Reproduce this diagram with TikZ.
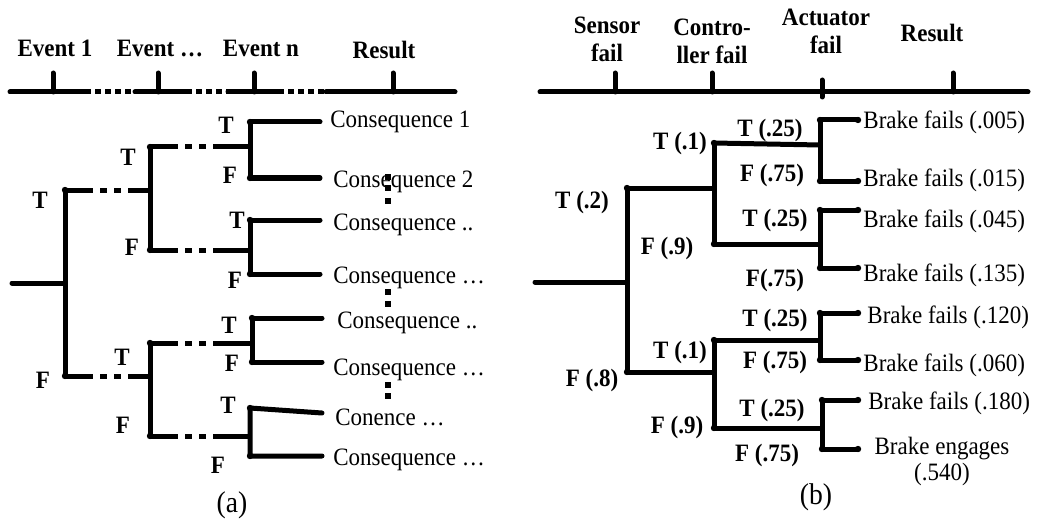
\documentclass[tikz,border=0pt]{standalone}
\usepackage{fontspec}
\setmainfont{Liberation Serif}[FakeStretch=0.92]
\begin{document}
\begin{tikzpicture}[x=0.5pt,y=-0.5pt,
  br/.style={line width=2.5pt,line cap=round,line join=round},
  dd/.style={line width=2.5pt,line cap=butt,dash pattern=on 14pt off 3.5pt on 3.5pt off 3.5pt on 3.5pt off 3.5pt on 200pt},
  dots/.style={line width=2.5pt,line cap=butt,dash pattern=on 3pt off 2pt},
  lbl/.style={inner sep=0pt,font=\fontsize{12.5}{14}\selectfont\bfseries},
  hdr/.style={inner sep=0pt,align=center,font=\fontsize{12.5}{14}\selectfont\bfseries},
  cons/.style={inner sep=0pt,anchor=west,font=\fontsize{12.5}{13.5}\selectfont},
  subcap/.style={inner sep=0pt,font=\fontsize{15}{17}\selectfont},
  sq/.style={fill=black,minimum size=2.6pt,inner sep=0pt,draw=none}]
\useasboundingbox (0,0) rectangle (1039,519);

% ================= (a) =================
\node[hdr] (ha1) at (55,48) {Event 1};
\node[hdr] (ha2) at (160,48) {Event …};
\node[hdr] (ha3) at (261,48) {Event n};
\node[hdr] (ha4) at (384,50) {Result};
% timeline
\coordinate (la0) at (10,92); \coordinate (la1) at (85,92);
\coordinate (la2) at (135,92); \coordinate (la3) at (186,92);
\coordinate (la4) at (228,92); \coordinate (la5) at (278,92);
\coordinate (la6) at (326,92); \coordinate (la7) at (455,92);
\draw[br] (la0) -- (la1); \draw[dots] (la1) -- (la2);
\draw[br] (la2) -- (la3); \draw[dots] (la3) -- (la4);
\draw[br] (la4) -- (la5); \draw[dots] (la5) -- (la6);
\draw[br] (la6) -- (la7);
\foreach \x/\n in {53/ta1,158/ta2,254/ta3,393/ta4}{
  \coordinate (\n b) at (\x,92); \coordinate (\n t) at (\x,73);
  \draw[br] (\n b) -- (\n t);}
% tree
\coordinate (a0) at (12,283); \coordinate (a1) at (65,283);
\coordinate (aT) at (65,190); \coordinate (aF) at (65,376);
\coordinate (b1) at (150,190); \coordinate (b1T) at (150,147); \coordinate (b1F) at (150,250);
\coordinate (b2) at (150,376); \coordinate (b2T) at (150,343); \coordinate (b2F) at (150,436);
\coordinate (c1) at (250,147); \coordinate (c1T) at (250,122); \coordinate (c1F) at (250,178);
\coordinate (c2) at (250,250); \coordinate (c2T) at (250,220); \coordinate (c2F) at (250,274);
\coordinate (c3) at (252,343); \coordinate (c3T) at (252,318); \coordinate (c3F) at (252,362);
\coordinate (c4) at (250,436); \coordinate (c4T) at (250,408); \coordinate (c4F) at (250,456);
\coordinate (e1) at (320,122); \coordinate (e2) at (320,178);
\coordinate (e3) at (320,220); \coordinate (e4) at (320,274);
\coordinate (e5) at (322,318); \coordinate (e6) at (322,362);
\coordinate (e7) at (322,413); \coordinate (e8) at (322,456);
\draw[br] (a0) -- (a1);
\draw[br] (aT) -- (aF);
\draw[dd] (aT) -- (b1);  \draw[dd] (aF) -- (b2);
\draw[br] (b1T) -- (b1F); \draw[br] (b2T) -- (b2F);
\draw[dd] (b1T) -- (c1); \draw[dd] (b1F) -- (c2);
\draw[dd] (b2T) -- (c3); \draw[dd] (b2F) -- (c4);
\draw[br] (e1) -- (c1T) -- (c1F) -- (e2);
\draw[br] (e3) -- (c2T) -- (c2F) -- (e4);
\draw[br] (e5) -- (c3T) -- (c3F) -- (e6);
\draw[br] (e7) -- (c4T) -- (c4F) -- (e8);
\foreach \p in {aT,aF,b1T,b1F,b2T,b2F,c1T,c1F,c2T,c2F,c3T,c3F,c4T,c4F}
  \fill (\p) circle (1.6pt);
% labels
\node[lbl] (la) at (40,200) {T};  \node[lbl] (lb) at (43,380) {F};
\node[lbl] (lc) at (128,157) {T}; \node[lbl] (ld) at (132,247) {F};
\node[lbl] (le) at (226,125) {T}; \node[lbl] (lf) at (230,175) {F};
\node[lbl] (lg) at (237,220) {T}; \node[lbl] (lh) at (235,280) {F};
\node[lbl] (li) at (122,357) {T}; \node[lbl] (lj) at (123,425) {F};
\node[lbl] (lk) at (229,325) {T}; \node[lbl] (ll) at (232,363) {F};
\node[lbl] (lm) at (228,405) {T}; \node[lbl] (ln) at (218,465) {F};
% consequences
\node[cons] (k1) at (330,122) {Consequence 1};
\node[cons] (k2) at (333,182) {Consequence 2};
\node[cons] (k3) at (333,225) {Consequence ..};
\node[cons] (k4) at (333,278) {Consequence …};
\node[cons] (k5) at (337,323) {Consequence ..};
\node[cons] (k6) at (333,370) {Consequence …};
\node[cons] (k7) at (335,417) {Conence …};
\node[cons] (k8) at (333,460) {Consequence …};
\foreach \y [count=\i] in {177,188,201,292,304,385,396}
  \node[sq] (q\i) at (388,\y) {};
\node[subcap] (capa) at (232,505) {(a)};

% ================= (b) =================
\node[hdr] (hb1) at (607,39) {Sensor\\fail};
\node[hdr] (hb2) at (712,41) {Contro-\\ller fail};
\node[hdr] (hb3) at (826,31) {Actuator\\fail};
\node[hdr] (hb4) at (932,33) {Result};
\coordinate (lb0) at (540,92); \coordinate (lb1) at (1028,92);
\draw[br] (lb0) -- (lb1);
\foreach \x/\n in {615/tb1,712/tb2,953/tb4}{
  \coordinate (\n b) at (\x,92); \coordinate (\n t) at (\x,73);
  \draw[br] (\n b) -- (\n t);}
\coordinate (tb3b) at (822,97); \coordinate (tb3t) at (822,80);
\draw[br] (tb3b) -- (tb3t);
% tree
\coordinate (r0) at (535,282); \coordinate (r1) at (627,282);
\coordinate (rT) at (627,188); \coordinate (rF) at (627,372);
\coordinate (s1) at (714,188); \coordinate (s1T) at (714,143); \coordinate (s1F) at (714,244);
\coordinate (s2) at (714,372); \coordinate (s2T) at (714,340); \coordinate (s2F) at (714,428);
\coordinate (t1) at (820,145); \coordinate (t1T) at (820,120); \coordinate (t1F) at (820,181);
\coordinate (t2) at (820,244); \coordinate (t2T) at (820,210); \coordinate (t2F) at (820,268);
\coordinate (t3) at (820,340); \coordinate (t3T) at (820,313); \coordinate (t3F) at (820,360);
\coordinate (t4) at (822,428); \coordinate (t4T) at (822,400); \coordinate (t4F) at (822,449);
\foreach \y/\n in {120/f1,181/f2,210/f3,268/f4,313/f5,360/f6}
  \coordinate (\n) at (858,\y);
\coordinate (f7) at (858,400); \coordinate (f8) at (858,449);
\draw[br] (r0) -- (r1);
\draw[br] (rT) -- (rF);
\draw[br] (rT) -- (s1); \draw[br] (rF) -- (s2);
\draw[br] (s1T) -- (s1F); \draw[br] (s2T) -- (s2F);
\draw[br] (s1T) -- (t1); \draw[br] (s1F) -- (t2);
\draw[br] (s2T) -- (t3); \draw[br] (s2F) -- (t4);
\draw[br] (f1) -- (t1T) -- (t1F) -- (f2);
\draw[br] (f3) -- (t2T) -- (t2F) -- (f4);
\draw[br] (f5) -- (t3T) -- (t3F) -- (f6);
\draw[br] (f7) -- (t4T) -- (t4F) -- (f8);
\foreach \p in {rT,rF,s1T,s1F,s2T,s2F,t1T,t1F,t2T,t2F,t3T,t3F,t4T,t4F,f1,f2,f3,f4,f5,f6,f7,f8}
  \fill (\p) circle (1.6pt);
% labels
\node[lbl] (pa) at (582,202) {T (.2)};
\node[lbl] (pb) at (592,380) {F (.8)};
\node[lbl] (pc) at (680,143) {T (.1)};
\node[lbl] (pd) at (667,248) {F (.9)};
\node[lbl] (pe) at (680,352) {T (.1)};
\node[lbl] (pf) at (677,427) {F (.9)};
\node[lbl] (pg) at (770,130) {T (.25)};
\node[lbl] (ph) at (772,175) {F (.75)};
\node[lbl] (pi) at (775,220) {T (.25)};
\node[lbl] (pj) at (775,280) {F(.75)};
\node[lbl] (pk) at (775,320) {T (.25)};
\node[lbl] (pl) at (775,362) {F (.75)};
\node[lbl] (pm) at (772,410) {T (.25)};
\node[lbl] (pn) at (767,455) {F (.75)};
% results
\node[cons] (o1) at (863,122) {Brake fails (.005)};
\node[cons] (o2) at (863,180) {Brake fails (.015)};
\node[cons] (o3) at (863,221) {Brake fails (.045)};
\node[cons] (o4) at (863,275) {Brake fails (.135)};
\node[cons] (o5) at (867,317) {Brake fails (.120)};
\node[cons] (o6) at (863,365) {Brake fails (.060)};
\node[cons] (o7) at (868,403) {Brake fails (.180)};
\node[inner sep=0pt,align=center,font=\fontsize{12.5}{13}\selectfont] (o8) at (942,461) {Brake engages\\(.540)};
\node[subcap] (capb) at (816,497) {(b)};
\end{tikzpicture}
\end{document}
